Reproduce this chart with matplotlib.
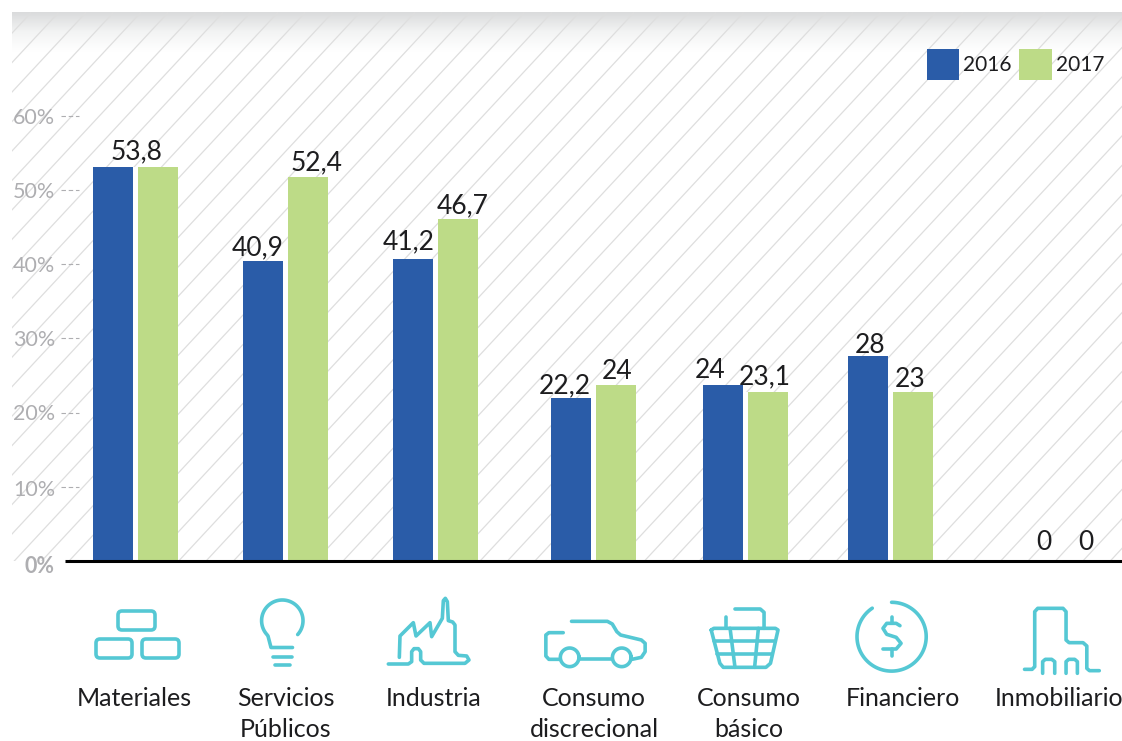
"""
Bar chart by sector, 2016 vs 2017, with line icons under the axis
"""
import numpy as np
import matplotlib
matplotlib.use('Agg')
import matplotlib.pyplot as plt
from matplotlib.colors import LinearSegmentedColormap
from matplotlib.patches import FancyBboxPatch

plt.rcParams['font.family'] = ['Lato', 'DejaVu Sans']

#The data
categories = ['Materiales', 'Servicios\nPúblicos', 'Industria', 'Consumo\ndiscrecional',
              'Consumo\nbásico', 'Financiero', 'Inmobiliario']
series_names = ['2016', '2017']
values_2016 = [53.8, 40.9, 41.2, 22.2, 24, 28, 0]
values_2017 = [53.8, 52.4, 46.7, 24, 23.1, 23, 0]
labels_2016 = ['53,8', '40,9', '41,2', '22,2', '24', '28', '0']
labels_2017 = ['', '52,4', '46,7', '24', '23,1', '23', '0']
tick_values = [0, 10, 20, 30, 40, 50, 60]

#Layout, all in pixels of the 1122x741 picture
W, H = 1122, 741
BASE_Y = 561
BAR_PX = 7.33    #bars and ticks do not share a scale in the original
TICK_PX = 7.42
group_x = [135.5, 285.5, 435.5, 593.5, 745.5, 890.5, 1065]
label_x = [134, 285.5, 434, 594, 749, 903, 1059]
offs_2016 = [(24, 15), (-5, 13), (-4, 17), (-6, 12), (-13, 15), (2, 10), (1, 19)]
offs_2017 = [(0, 0), (9, 14), (5, 13), (1, 14), (-3, 15), (-3, 13), (-2, 19)]
tick_nudge = [5.5, 3, 1.5, 1.5, 1.5, 1.5, 2.5]    #tick labels sit a little under their ticks
BLUE = '#2a5ca8'
GREEN = '#bddb87'
TEAL = '#55c8d4'
GREY = '#aeaeb1'
DARK = '#1d1d1f'

fig = plt.figure(figsize=(W/100, H/100), dpi=100)

#pixel axes for the background and the icons
bg = fig.add_axes([0, 0, 1, 1], zorder=0)
grad = LinearSegmentedColormap.from_list('g', ['#dadbdc', '#f3f4f4', '#ffffff'])
bg.imshow(np.linspace(0, 1, 50).reshape(-1, 1), cmap=grad, extent=(12, W, 52, 12), aspect='auto')
for x0 in np.arange(30.7, W+(BASE_Y-13)*0.93+30, 27.4):
    ln, = bg.plot([x0, x0-(BASE_Y-13)*0.93], [13, BASE_Y], color='#dedede', lw=0.9)
    ln.set_clip_path(plt.Rectangle((12, 12), W-12, BASE_Y-12, transform=bg.transData))
bg.set_xlim(0, W)
bg.set_ylim(H, 0)
bg.axis('off')

#bars
ax = fig.add_axes([0, (H-BASE_Y)/H, 1, BASE_Y/H], zorder=1)
ax.patch.set_alpha(0)
ax.set_xlim(0, W)
ax.set_ylim(0, BASE_Y/BAR_PX)
x = np.array(group_x)
ax.bar(x, np.minimum(values_2016, values_2017), width=5, color='white')
ax.bar(x-22.5, values_2016, width=40, color=BLUE, label=series_names[0])
ax.bar(x+22.5, values_2017, width=40, color=GREEN, label=series_names[1])
for i in range(len(categories)):
    for xx, v, txt, off in ((x[i]-22.5, values_2016[i], labels_2016[i], offs_2016[i]),
                            (x[i]+22.5, values_2017[i], labels_2017[i], offs_2017[i])):
        if txt:
            ax.annotate(txt, (xx, v), xytext=(off[0]*0.72, off[1]*0.72), textcoords='offset points',
                        ha='center', va='center', fontsize=19, color=DARK)
ax.set_xticks([])
ax.set_yticks([])
for s in ax.spines.values():
    s.set_visible(False)
ax.plot([65, W], [0, 0], color='black', lw=2.2, clip_on=False, solid_capstyle='butt')
ax.legend(loc='upper right', bbox_to_anchor=(1123/W, 1-30/BASE_Y), ncol=2, frameon=False,
          fontsize=15, handlelength=1.55, handleheight=1.91, handletextpad=0.2,
          columnspacing=0.35, borderpad=0.4, labelcolor=DARK)

#tick scale
ax2 = fig.add_axes([0, (H-BASE_Y)/H, 1, BASE_Y/H], zorder=2)
ax2.patch.set_alpha(0)
ax2.set_xlim(0, W)
ax2.set_ylim(0, BASE_Y/TICK_PX)
ax2.axis('off')
for t, nudge in zip(tick_values, tick_nudge):
    ax2.annotate(f'{t}%', (55, t), xytext=(0, -nudge*0.72), textcoords='offset points',
                 ha='right', va='center', fontsize=15.5, color=GREY,
                 fontweight='bold' if t == 0 else 'normal')
    if t > 0:
        ax2.plot([61, 79], [t, t], color=GREY, lw=0.8, ls=(0, (4, 2.5)))

#category names
for lx, name in zip(label_x, categories):
    bg.text(lx, 687, name, ha='center', va='top', fontsize=18, color=DARK, linespacing=1.43, clip_on=True)

#icons, traced in the coordinates of the zoomed crops
def z2(p):
    p = np.array(p, dtype=float)
    return 60+p[:, 0]/3, 580+p[:, 1]/3

def z3(p):
    p = np.array(p, dtype=float)
    return 530+p[:, 0]/2.649, 580+p[:, 1]/3

def icon(xy):
    bg.plot(xy[0], xy[1], color=TEAL, lw=2.6, solid_capstyle='round', solid_joinstyle='round')

#bricks
for (x0, y0, x1, y1) in [(118, 611, 155, 630), (96, 639, 132, 658), (142, 639, 179, 658)]:
    bg.add_patch(FancyBboxPatch((x0, y0), x1-x0, y1-y0, boxstyle='round,pad=0,rounding_size=4',
                                fc='none', ec=TEAL, lw=2.6))

#bulb
ang = np.radians(np.linspace(-42, 222, 80))
bx, by = 282.3+20.7*np.cos(ang), 620.7-20.7*np.sin(ang)
bg.plot(np.r_[bx, 268, 271, 292.5], np.r_[by, 636, 647.5, 647.5], color=TEAL, lw=2.6,
        solid_capstyle='round', solid_joinstyle='round')
icon(z2([(638, 230), (695, 230)]))
icon(z2([(645, 255), (690, 255)]))

#factory
icon(z2([(985, 252), (1045, 252), (1055, 245), (1055, 215), (1062, 206), (1075, 206), (1082, 215),
         (1082, 240), (1092, 250), (1215, 250), (1227, 240), (1220, 228), (1195, 226), (1185, 215),
         (1185, 135), (1178, 126), (1165, 122), (1162, 65), (1156, 55), (1150, 62), (1147, 115),
         (1115, 170), (1110, 128), (1068, 168), (1060, 128), (1020, 168), (1018, 232)]))

#car
icon(z3([(110, 124), (205, 124), (218, 132), (230, 155), (240, 165), (295, 180), (305, 190), (305, 215),
         (295, 232), (270, 238)]))
icon(z3([(130, 238), (218, 238)]))
icon(z3([(88, 158), (50, 158), (42, 165), (42, 228), (50, 238), (80, 238)]))
ang = np.linspace(0, 2*np.pi, 60)
for cx in (105, 243):
    bg.plot(530+cx/2.649+9.3*np.cos(ang), 580+232/3+9.3*np.sin(ang), color=TEAL, lw=2.6)

#basket
icon(z3([(543, 87), (610, 87), (620, 97), (620, 145)]))
icon(z3([(518, 110), (518, 145)]))
icon(z3([(480, 150), (503, 250), (512, 262), (625, 262), (637, 250), (657, 150), (650, 145), (487, 145),
         (480, 150)]))
icon(z3([(488, 183), (650, 183)]))
icon(z3([(495, 222), (642, 222)]))
icon(z3([(530, 145), (543, 262)]))
icon(z3([(605, 145), (595, 262)]))

#coin
ang = np.radians(np.linspace(90, 90-326, 120))
bg.plot(891.6+34.6*np.cos(ang), 636.7-34.4*np.sin(ang), color=TEAL, lw=2.6, solid_capstyle='round')
icon(z3([(980, 137), (970, 130), (945, 130), (935, 145), (945, 163), (970, 172), (983, 190), (970, 207),
         (935, 207)]))
icon(z3([(958, 110), (958, 130)]))
icon(z3([(958, 207), (958, 227)]))

#building
icon(z3([(1310, 268), (1330, 268), (1337, 260), (1337, 95), (1345, 85), (1412, 85), (1420, 95), (1420, 180),
         (1428, 188), (1465, 188), (1475, 198), (1475, 265), (1482, 272), (1508, 272)]))
icon(z3([(1358, 280), (1358, 245), (1365, 238), (1382, 238), (1390, 245), (1390, 280)]))
icon(z3([(1420, 280), (1420, 245), (1427, 238), (1443, 238), (1450, 245), (1450, 280)]))

bg.set_xlim(0, W)
bg.set_ylim(H, 0)
fig.savefig('out.png', dpi=100)
